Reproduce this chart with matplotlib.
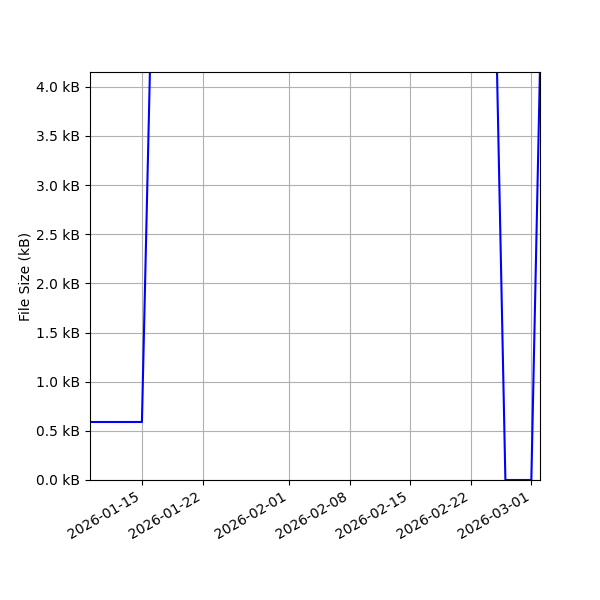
import matplotlib
matplotlib.use("Agg")
import matplotlib.pyplot as plt
import matplotlib.dates as mdates
from matplotlib.ticker import FuncFormatter
import pandas as pd

# file size history (kB)
dates = ["2026-01-09", "2026-01-15", "2026-01-16", "2026-02-25",
         "2026-02-26", "2026-03-01", "2026-03-02"]
sizes_kb = [0.59, 0.59, 4.45, 4.3, 0.0, 0.0, 4.2]
tick_dates = ["2026-01-15", "2026-01-22", "2026-02-01", "2026-02-08",
              "2026-02-15", "2026-02-22", "2026-03-01"]

x = pd.to_datetime(dates)

fig, ax = plt.subplots(figsize=(6, 6), dpi=100)
ax.plot(x, sizes_kb, color="blue")

ax.set_xlim(x[0], x[-1])
ax.set_ylim(0, 4.15)
ax.set_xticks(pd.to_datetime(tick_dates))
ax.xaxis.set_major_formatter(mdates.DateFormatter("%Y-%m-%d"))
ax.yaxis.set_major_formatter(FuncFormatter(lambda v, p: f"{v:.1f} kB"))
ax.set_ylabel("File Size (kB)", labelpad=2.5)
ax.grid(True)

fig.autofmt_xdate()
fig.subplots_adjust(left=0.15, right=0.9, top=0.88, bottom=0.2)
fig.savefig("out.png")
